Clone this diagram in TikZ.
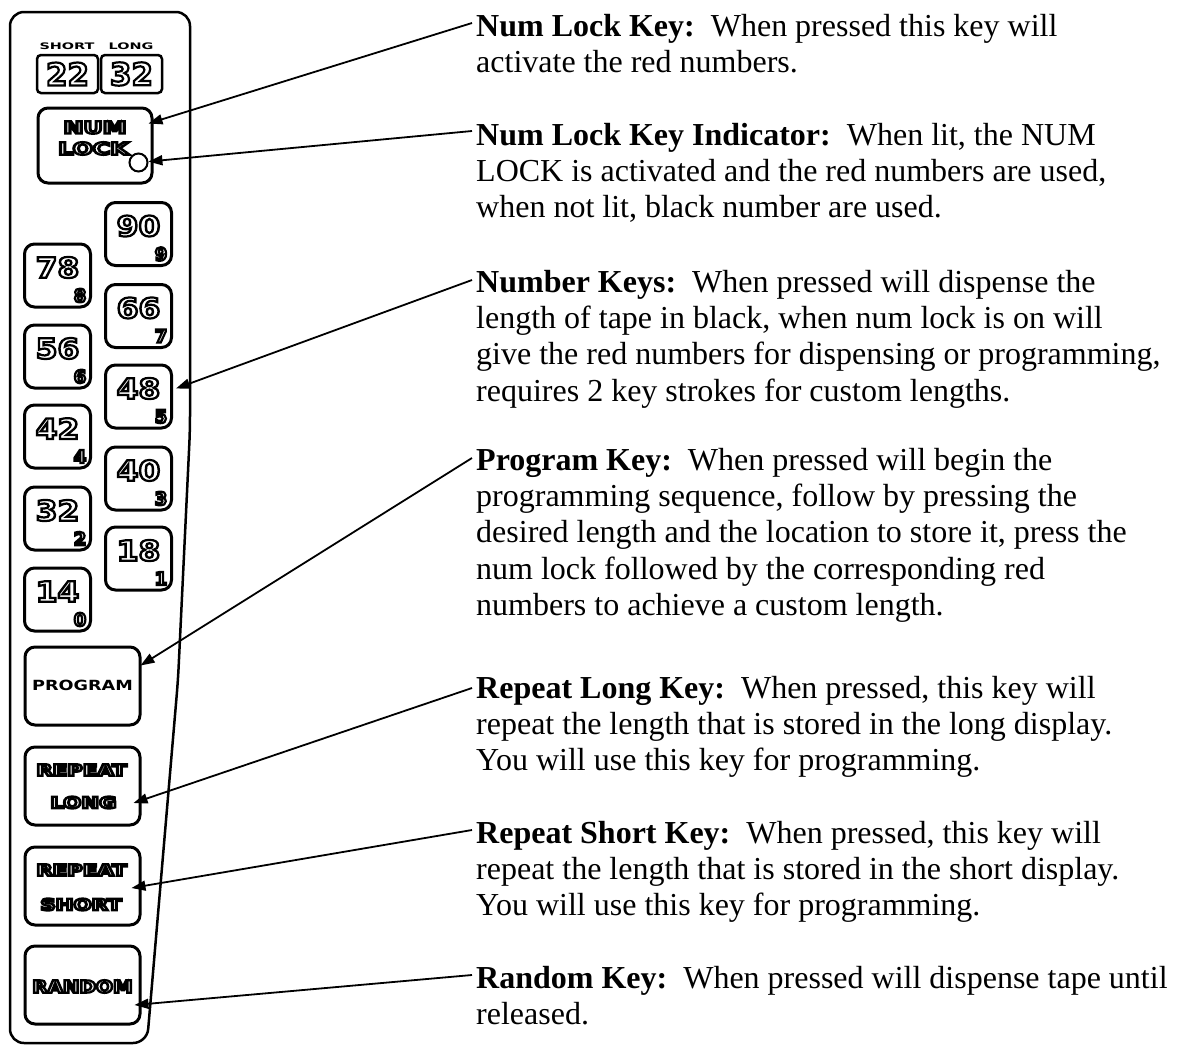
\documentclass[tikz,border=0pt]{standalone}
\usepackage{fontspec}
\setmainfont{Liberation Serif}
\newfontfamily\keyfont{DejaVu Sans}
\usepackage{graphicx}
\usetikzlibrary{arrows.meta,calc}
\newcommand{\hollow}[1]{\special{pdf:literal direct 1 Tr 2.2 w}#1\special{pdf:literal direct 0 Tr}}
\tikzset{
	keybox/.style={draw, line width=3pt, rounded corners=10pt, inner sep=0pt},
	numkey/.style={keybox, minimum width=66pt, minimum height=63pt},
	bigkey/.style={keybox, minimum width=115pt, minimum height=78pt},
	display/.style={draw, line width=2.5pt, rounded corners=4pt, minimum width=61pt, minimum height=38pt, inner sep=0pt, font=\keyfont\bfseries\fontsize{31}{31}\selectfont},
	tag/.style={inner sep=0pt, font=\keyfont\bfseries\fontsize{9}{9}\selectfont},
	bignum/.style={inner sep=0pt, font=\keyfont\bfseries\fontsize{28}{28}\selectfont},
	subnum/.style={inner sep=0pt, font=\keyfont\bfseries\fontsize{18}{18}\selectfont},
	keyword/.style={inner sep=0pt, font=\keyfont\bfseries\fontsize{16}{16}\selectfont},
	note/.style={anchor=north west, inner sep=0pt, align=left, font=\fontsize{32}{36.2}\selectfont},
	pointer/.style={line width=1.8pt, -{Triangle[length=14pt,width=10pt]}}
}
\begin{document}
\begin{tikzpicture}[x=1pt, y=-1pt]
	\useasboundingbox (0,0) rectangle (1178,1053);
	% keypad
	\draw [line width=2.5pt, rounded corners=14pt] (10,12) -- (190,12) -- (190,430) -- (178,680) -- (147,1043) -- (10,1043) -- cycle;
	\node [display] (dshort) at (67.5,74) {\hollow{22}};
	\node [display] (dlong) at (131.5,74) {\hollow{32}};
	\node [tag] (tagshort) at (67,46) {\scalebox{1.6}[1]{SHORT}};
	\node [tag] (taglong) at (131,46) {\scalebox{1.6}[1]{LONG}};
	\node [keybox, minimum width=114pt, minimum height=75pt] (numlock) at (95,145.5) {};
	\node [keyword, font=\keyfont\bfseries\fontsize{17}{17}\selectfont] (numtop) at (95,127.5) {\scalebox{1.4}[1]{\hollow{NUM}}};
	\node [keyword, font=\keyfont\bfseries\fontsize{17}{17}\selectfont] (numbot) at (93.5,148.5) {\scalebox{1.4}[1]{\hollow{LOCK}}};
	\node [draw, line width=2pt, circle, minimum size=18pt, inner sep=0pt] (numled) at ($(numlock.south east)+(-15,-22)$) {};
	\foreach \n/\s/\x/\y in {90/9/138.5/234, 66/7/138.5/316, 48/5/138.5/396.5, 40/3/138.5/478.5, 18/1/138.5/558.5, 78/8/57.5/275.5, 56/6/57.5/356.5, 42/4/57.5/436.5, 32/2/57.5/518.5, 14/0/57.5/599.5} {
		\node [numkey] (k\n) at (\x,\y) {};
		\node [bignum] (num\n) at ($(k\n)+(0,-8)$) {\scalebox{1.12}[1]{\hollow{\n}}};
		\node [subnum] (sub\n) at ($(k\n.south east)+(-12,-13)$) {\hollow{\s}};
	}
	\node [bigkey] (program) at (82.5,686) {};
	\node [keyword, font=\keyfont\bfseries\fontsize{14}{14}\selectfont] (progtext) at (82.5,685.5) {\scalebox{1.26}[1]{PROGRAM}};
	\node [bigkey] (rlong) at (82.5,786) {};
	\node [keyword] (rlongtop) at (81.5,770) {\scalebox{1.33}[1]{\hollow{REPEAT}}};
	\node [keyword] (rlongbot) at (83.5,802.5) {\scalebox{1.33}[1]{\hollow{LONG}}};
	\node [bigkey] (rshort) at (82.5,886) {};
	\node [keyword] (rshorttop) at (81.5,870) {\scalebox{1.33}[1]{\hollow{REPEAT}}};
	\node [keyword] (rshortbot) at (81,904.5) {\scalebox{1.33}[1]{\hollow{SHORT}}};
	\node [bigkey] (random) at (82.5,985) {};
	\node [keyword, font=\keyfont\bfseries\fontsize{17}{17}\selectfont] (randtext) at (82.5,986.5) {\scalebox{1.17}[1]{\hollow{RANDOM}}};
	% notes
	\node [note] (tnum) at (476,14) {\rule{0pt}{22pt}\textbf{Num Lock Key:}\ \ When pressed this key will\\activate the red numbers.};
	\node [note] (tled) at (476,123) {\rule{0pt}{22pt}\textbf{Num Lock Key Indicator:}\ \ When lit, the NUM\\LOCK is activated and the red numbers are used,\\when not lit, black number are used.};
	\node [note] (tkeys) at (476,270) {\rule{0pt}{22pt}\textbf{Number Keys:}\ \ When pressed will dispense the\\length of tape in black, when num lock is on will\\give the red numbers for dispensing or programming,\\requires 2 key strokes for custom lengths.};
	\node [note] (tprog) at (476,448) {\rule{0pt}{22pt}\textbf{Program Key:}\ \ When pressed will begin the\\programming sequence, follow by pressing the\\desired length and the location to store it, press the\\num lock followed by the corresponding red\\numbers to achieve a custom length.};
	\node [note] (tlong) at (476,676) {\rule{0pt}{22pt}\textbf{Repeat Long Key:}\ \ When pressed, this key will\\repeat the length that is stored in the long display.\\You will use this key for programming.};
	\node [note] (tshort) at (476,821) {\rule{0pt}{22pt}\textbf{Repeat Short Key:}\ \ When pressed, this key will\\repeat the length that is stored in the short display.\\You will use this key for programming.};
	\node [note] (trand) at (476,966) {\rule{0pt}{22pt}\textbf{Random Key:}\ \ When pressed will dispense tape until\\released.};
	% pointers
	\draw [pointer] ($(tnum.north west)+(-4,9)$) -- ($(numlock.north east)+(-5,17)$);
	\draw [pointer] ($(tled.north west)+(-4,8)$) -- (numled);
	\draw [pointer] ($(tkeys.north west)+(-4,10)$) -- ($(k48.east)+(3,-8)$);
	\draw [pointer] ($(tprog.north west)+(-4,10)$) -- ($(program.north east)+(-1,20)$);
	\draw [pointer] ($(tlong.north west)+(-4,12)$) -- ($(rlong.east)+(-8,17)$);
	\draw [pointer] ($(tshort.north west)+(-4,9)$) -- ($(rshort.east)+(-10,2)$);
	\draw [pointer] ($(trand.north west)+(-4,9)$) -- ($(random.east)+(-7,20)$);
\end{tikzpicture}
\end{document}
